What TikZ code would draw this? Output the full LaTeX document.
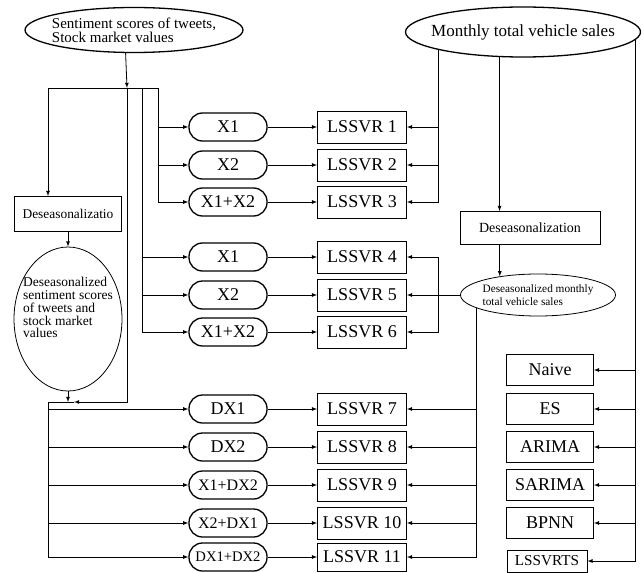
\documentclass[tikz,border=0pt]{standalone}
\usepackage{fontspec}
\setmainfont{Liberation Serif}
\usetikzlibrary{shapes.geometric}

\tikzset{
	inputNode/.style={draw, rectangle, rounded corners=13.5pt, line width=1.3pt, inner sep=0pt, minimum width=78pt, minimum height=28pt, font=\fontsize{18}{18}\selectfont},
	modelBox/.style={draw, rectangle, line width=0.8pt, inner sep=0pt, minimum width=89pt, minimum height=32pt, font=\fontsize{18}{18}\selectfont},
	benchBox/.style={modelBox, minimum width=87pt, minimum height=31pt},
	stageBox/.style={draw, rectangle, line width=0.8pt, inner sep=0pt},
	link/.style={line width=0.8pt}
}

\begin{document}
\begin{tikzpicture}[x=1pt, y=-1pt, link]
			\useasboundingbox (0,0) rectangle (644,572);
			
			%Sources
			\node (sentimentSource) at (134,30) [draw, ellipse, line width=1.3pt, minimum width=218pt, minimum height=45pt, inner ysep=0pt, inner xsep=-6pt, align=left, font=\fontsize{15}{14}\selectfont]{Sentiment scores of tweets,\\Stock market values};
			\node (salesSource) at (523,32) [draw, ellipse, line width=1.3pt, minimum width=235pt, minimum height=50pt, inner ysep=0pt, inner xsep=-9.5pt, font=\fontsize{17}{17}\selectfont]{Monthly total vehicle sales};
			
			%Deseasonalization
			\node (deseasonLeft) at (68,214) [stageBox, minimum width=107pt, minimum height=35pt, font=\fontsize{13.4}{14}\selectfont]{Deseasonalizatio};
			\node (deseasonedSentiment) at (68,319) [draw, ellipse, line width=0.8pt, minimum width=108pt, minimum height=144pt, inner ysep=0pt, inner xsep=-7.5pt, align=left, font=\fontsize{13.5}{12.8}\selectfont]{Deseasonalized\\sentiment scores\\of tweets and\\stock market\\values\\[10pt]};
			\node (deseasonRight) at (530,228) [stageBox, minimum width=140pt, minimum height=33pt, font=\fontsize{14}{14}\selectfont]{Deseasonalization};
			\node (deseasonedSales) at (538,295) [draw, ellipse, line width=0.8pt, minimum width=155pt, minimum height=42pt, inner ysep=0pt, inner xsep=-1.5pt, align=left, font=\fontsize{11.3}{13}\selectfont]{Deseasonalized monthly\\total vehicle sales};
			
			%Inputs
			\node (xOneA) at (228,127) [inputNode]{X1};
			\node (xTwoA) at (228,165) [inputNode]{X2};
			\node (xSumA) at (228,202) [inputNode]{X1+X2};
			\node (xOneB) at (228,257) [inputNode]{X1};
			\node (xTwoB) at (228,295) [inputNode]{X2};
			\node (xSumB) at (228,332) [inputNode]{X1+X2};
			\node (dxOne) at (228,409) [inputNode]{DX1};
			\node (dxTwo) at (228,447) [inputNode]{DX2};
			\node (xOneDxTwo) at (228,485) [inputNode, font=\fontsize{16}{16}\selectfont]{X1+DX2};
			\node (xTwoDxOne) at (228,523) [inputNode, font=\fontsize{16}{16}\selectfont]{X2+DX1};
			\node (dxSum) at (228,557) [inputNode, font=\fontsize{14.6}{14.6}\selectfont]{DX1+DX2};
			
			%Models
			\node (lssvrOne) at (362,127) [modelBox]{LSSVR 1};
			\node (lssvrTwo) at (362,165) [modelBox]{LSSVR 2};
			\node (lssvrThree) at (362,202) [modelBox]{LSSVR 3};
			\node (lssvrFour) at (362,257) [modelBox]{LSSVR 4};
			\node (lssvrFive) at (362,295) [modelBox]{LSSVR 5};
			\node (lssvrSix) at (362,332) [modelBox]{LSSVR 6};
			\node (lssvrSeven) at (362,409) [modelBox]{LSSVR 7};
			\node (lssvrEight) at (362,447) [modelBox]{LSSVR 8};
			\node (lssvrNine) at (362,485) [modelBox]{LSSVR 9};
			\node (lssvrTen) at (362,523) [modelBox]{LSSVR 10};
			\node (lssvrEleven) at (362,557) [modelBox, minimum height=28pt]{LSSVR 11};
			
			%Benchmarks
			\node (naive) at (550,370) [benchBox]{Naive};
			\node (es) at (550,409) [benchBox]{ES};
			\node (arima) at (550,447) [benchBox]{ARIMA};
			\node (sarima) at (550,485) [benchBox]{SARIMA};
			\node (bpnn) at (550,523) [benchBox]{BPNN};
			\node (lssvrts) at (547,561) [benchBox, minimum width=80pt, minimum height=22pt, font=\fontsize{15.2}{15.2}\selectfont]{LSSVRTS};
			
			%Left bus
			\coordinate (busLeft) at (48,88);
			\coordinate (busDown) at (127,88);
			\coordinate (busMid) at (142,88);
			\coordinate (busRight) at (158,88);
			\coordinate (mergePoint) at (74,402);
			\coordinate (mergeLeft) at (48,402);
			
			%Links
			\draw[-latex] (sentimentSource.250) -- (busDown);
			\draw (busLeft) -- (busRight);
			\draw[-latex] (busLeft) -- (busLeft |- deseasonLeft.north);
			\draw[-latex] (deseasonLeft) -- (deseasonedSentiment);
			\draw[-latex] (deseasonedSentiment.south) -- (deseasonedSentiment.south |- mergePoint);
			\draw[-latex] (busDown) |- (mergePoint);
			\draw (mergePoint) -- (mergeLeft);
			
			\draw[-latex] (busRight) |- (xSumA.west);
			\draw[-latex] (busRight |- xOneA.west) -- (xOneA.west);
			\draw[-latex] (busRight |- xTwoA.west) -- (xTwoA.west);
			\draw[-latex] (busMid) |- (xSumB.west);
			\draw[-latex] (busMid |- xOneB.west) -- (xOneB.west);
			\draw[-latex] (busMid |- xTwoB.west) -- (xTwoB.west);
			\draw[-latex] (mergeLeft) |- (dxSum.west);
			\draw[-latex] (mergeLeft |- dxOne.west) -- (dxOne.west);
			\draw[-latex] (mergeLeft |- dxTwo.west) -- (dxTwo.west);
			\draw[-latex] (mergeLeft |- xOneDxTwo.west) -- (xOneDxTwo.west);
			\draw[-latex] (mergeLeft |- xTwoDxOne.west) -- (xTwoDxOne.west);
			
			\draw[-latex] (xOneA) -- (lssvrOne);
			\draw[-latex] (xTwoA) -- (lssvrTwo);
			\draw[-latex] (xSumA) -- (lssvrThree);
			\draw[-latex] (xOneB) -- (lssvrFour);
			\draw[-latex] (xTwoB) -- (lssvrFive);
			\draw[-latex] (xSumB) -- (lssvrSix);
			\draw[-latex] (dxOne) -- (lssvrSeven);
			\draw[-latex] (dxTwo) -- (lssvrEight);
			\draw[-latex] (xOneDxTwo) -- (lssvrNine);
			\draw[-latex] (xTwoDxOne) -- (lssvrTen);
			\draw[-latex] (dxSum) -- (lssvrEleven);
			
			%Sales links
			\draw[-latex] (salesSource.192) |- (lssvrThree.east);
			\draw[-latex] (salesSource.192 |- lssvrOne.east) -- (lssvrOne.east);
			\draw[-latex] (salesSource.192 |- lssvrTwo.east) -- (lssvrTwo.east);
			\draw[-latex] (salesSource.227) -- (salesSource.227 |- deseasonRight.north);
			\draw[-latex] (deseasonRight.south -| deseasonedSales.154) -- (deseasonedSales.154);
			\draw[-latex] (deseasonedSales.west) -- (lssvrFive.east);
			\coordinate (bracketMid) at (salesSource.192 |- deseasonedSales.west);
			\draw[-latex] (bracketMid) |- (lssvrFour.east);
			\draw[-latex] (bracketMid) |- (lssvrSix.east);
			\draw[-latex] (deseasonedSales.192) |- (lssvrEleven.east);
			\draw[-latex] (deseasonedSales.192 |- lssvrSeven.east) -- (lssvrSeven.east);
			\draw[-latex] (deseasonedSales.192 |- lssvrEight.east) -- (lssvrEight.east);
			\draw[-latex] (deseasonedSales.192 |- lssvrNine.east) -- (lssvrNine.east);
			\draw[-latex] (deseasonedSales.192 |- lssvrTen.east) -- (lssvrTen.east);
			
			%Benchmark links
			\draw[-latex] (salesSource.356) |- (lssvrts.east);
			\draw[-latex] (salesSource.356 |- naive.east) -- (naive.east);
			\draw[-latex] (salesSource.356 |- es.east) -- (es.east);
			\draw[-latex] (salesSource.356 |- arima.east) -- (arima.east);
			\draw[-latex] (salesSource.356 |- sarima.east) -- (sarima.east);
			\draw[-latex] (salesSource.356 |- bpnn.east) -- (bpnn.east);
			
\end{tikzpicture}
\end{document}
